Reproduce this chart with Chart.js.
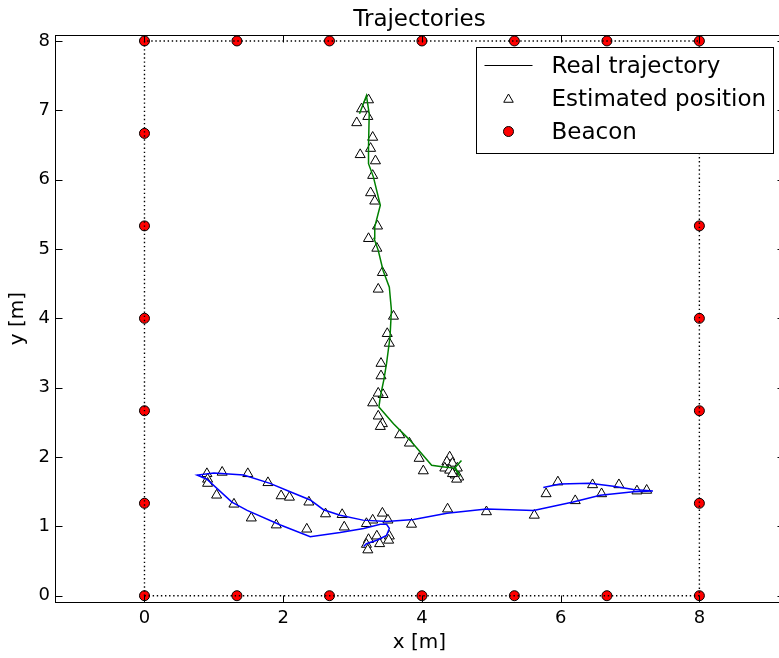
<!DOCTYPE html>
<html>
<head>
<meta charset="utf-8">
<title>Trajectories</title>
<script src="https://cdn.jsdelivr.net/npm/chart.js@4.4.1/dist/chart.umd.min.js"></script>
<style>
  html, body { margin: 0; padding: 0; overflow: hidden; background: #fff; }
  #wrap { width: 800px; height: 658px; }
</style>
</head>
<body>
<div id="wrap"><canvas id="trajChart" width="800" height="658"></canvas></div>
<script>
// axis ranges and ticks
const xMin = -1.29, xMax = 9.22;
const yMin = -0.095, yMax = 8.09;
const xTicks = [0, 2, 4, 6, 8];
const yTicks = [0, 1, 2, 3, 4, 5, 6, 7, 8];

// room outline (dotted) and beacons
const roomX = [0, 8, 8, 0, 0];
const roomY = [0, 0, 8, 8, 0];
const beaconX = [0, 1.333, 2.667, 4, 5.333, 6.667, 8, 0, 1.333, 2.667, 4, 5.333, 6.667, 8, 0, 0, 0, 0, 0, 8, 8, 8, 8, 8];
const beaconY = [0, 0, 0, 0, 0, 0, 0, 8, 8, 8, 8, 8, 8, 8, 1.333, 2.667, 4, 5.333, 6.667, 1.333, 2.667, 4, 5.333, 6.667];

// real trajectory 1 (green)
const greenX = [4.57, 4.48, 4.55, 4.47, 4.29, 4.14, 3.83, 3.59, 3.38, 3.40, 3.45, 3.49, 3.54, 3.56, 3.53, 3.44, 3.37, 3.31, 3.32, 3.40, 3.30, 3.23, 3.23, 3.24, 3.20, 3.10];
const greenY = [1.95, 1.85, 1.72, 1.84, 1.86, 1.88, 2.24, 2.48, 2.72, 2.87, 3.11, 3.35, 3.73, 4.12, 4.45, 4.69, 4.98, 5.15, 5.32, 5.63, 6.04, 6.23, 6.47, 6.95, 7.21, 6.95];

// real trajectory 2 (blue)
const blueX = [5.75, 5.99, 6.42, 6.76, 7.05, 7.33, 7.05, 6.57, 6.18, 5.61, 4.93, 4.36, 3.88, 3.49, 3.15, 2.82, 2.58, 2.39, 2.10, 1.81, 1.43, 1.00, 0.76, 0.90, 1.26, 1.48, 1.96, 2.39, 2.82, 3.16, 3.40, 3.49, 3.53, 3.49, 3.35, 3.20, 3.16];
const blueY = [1.56, 1.61, 1.62, 1.58, 1.53, 1.51, 1.50, 1.45, 1.35, 1.23, 1.25, 1.19, 1.10, 1.07, 1.09, 1.16, 1.24, 1.38, 1.50, 1.62, 1.74, 1.77, 1.74, 1.68, 1.35, 1.23, 1.02, 0.85, 0.91, 0.97, 1.03, 1.03, 0.97, 0.87, 0.80, 0.75, 0.71];

// estimated positions along trajectory 1
const estGreenX = [3.23, 3.13, 3.22, 3.06, 3.29, 3.26, 3.11, 3.33, 3.29, 3.26, 3.32, 3.36, 3.23, 3.35, 3.43, 3.37, 3.59, 3.50, 3.53, 3.41, 3.41, 3.44, 3.37, 3.29, 3.37, 3.43, 3.40, 3.68, 3.82, 3.96, 4.02, 4.40, 4.36, 4.44, 4.33, 4.40, 4.51, 4.48, 4.53, 4.50, 4.44];
const estGreenY = [7.15, 7.02, 6.91, 6.82, 6.61, 6.45, 6.36, 6.27, 6.06, 5.81, 5.69, 5.33, 5.15, 5.01, 4.66, 4.42, 4.03, 3.78, 3.64, 3.35, 3.17, 2.90, 2.92, 2.78, 2.59, 2.48, 2.44, 2.32, 2.20, 1.98, 1.80, 2.00, 1.93, 1.91, 1.84, 1.81, 1.84, 1.74, 1.71, 1.68, 1.76];

// estimated positions along trajectory 2
const estBlueX = [0.90, 0.91, 0.91, 1.12, 1.49, 1.04, 1.29, 1.78, 1.97, 2.09, 1.54, 1.90, 2.37, 2.61, 2.34, 2.85, 2.88, 3.29, 3.43, 3.51, 3.20, 3.23, 3.35, 3.39, 3.53, 3.52, 3.20, 3.22, 3.85, 4.37, 4.93, 5.62, 5.79, 5.96, 6.21, 6.46, 6.59, 6.84, 7.10, 7.24];
const estBlueY = [1.76, 1.68, 1.62, 1.78, 1.76, 1.45, 1.32, 1.63, 1.44, 1.42, 1.12, 1.02, 1.35, 1.18, 0.96, 1.17, 0.99, 1.09, 1.19, 1.09, 1.04, 0.81, 0.86, 0.75, 0.86, 0.80, 0.74, 0.66, 1.03, 1.25, 1.21, 1.16, 1.47, 1.64, 1.37, 1.60, 1.47, 1.60, 1.51, 1.52];

const chartTitle = 'Trajectories';
const legendLabels = ['Real trajectory', 'Estimated position', 'Beacon'];

const FONT = "'DejaVu Sans', 'Liberation Sans', sans-serif";
Chart.defaults.font.family = FONT;
Chart.defaults.color = '#000';

function pts(xs, ys) {
  return xs.map((x, i) => ({ x: x, y: ys[i] }));
}

// title centred over the axes, like matplotlib
const axesTitle = {
  id: 'axesTitle',
  afterDraw(chart) {
    const ctx = chart.ctx, a = chart.chartArea;
    ctx.save();
    ctx.fillStyle = '#000';
    ctx.font = '23px ' + FONT;
    ctx.textAlign = 'center';
    ctx.textBaseline = 'middle';
    ctx.fillText(chartTitle, (a.left + a.right) / 2, a.top - 15);
    ctx.restore();
  }
};

// frame with inward ticks on all four sides
const frameTicks = {
  id: 'frameTicks',
  afterDatasetsDraw(chart) {
    const ctx = chart.ctx, a = chart.chartArea;
    const sx = chart.scales.x, sy = chart.scales.y;
    const L = Math.round(a.left) + 0.5, R = Math.round(a.right) + 0.5;
    const T = Math.round(a.top) + 0.5, B = Math.round(a.bottom) + 0.5;
    ctx.save();
    ctx.strokeStyle = '#000';
    ctx.lineWidth = 1;
    ctx.strokeRect(L, T, R - L, B - T);
    ctx.beginPath();
    xTicks.forEach(v => {
      const px = Math.round(sx.getPixelForValue(v)) + 0.5;
      ctx.moveTo(px, B); ctx.lineTo(px, B - 7);
      ctx.moveTo(px, T); ctx.lineTo(px, T + 7);
    });
    yTicks.forEach(v => {
      const py = Math.round(sy.getPixelForValue(v)) + 0.5;
      ctx.moveTo(L, py); ctx.lineTo(L + 7, py);
      ctx.moveTo(R, py); ctx.lineTo(R - 7, py);
    });
    ctx.stroke();
    ctx.restore();
  }
};

// boxed legend inside the axes, upper right
const boxLegend = {
  id: 'boxLegend',
  afterDraw(chart) {
    const ctx = chart.ctx, a = chart.chartArea;
    const left = Math.round(a.right - 308) + 0.5, top = Math.round(a.top + 12) + 0.5;
    const w = 297, h = 106;
    ctx.save();
    ctx.fillStyle = '#fff';
    ctx.fillRect(left, top, w, h);
    ctx.strokeStyle = '#000';
    ctx.lineWidth = 1;
    ctx.strokeRect(left, top, w, h);
    const rows = [top + 18, top + 51, top + 84];
    const mx = left + 32;
    ctx.beginPath();
    ctx.moveTo(left + 8, rows[0]);
    ctx.lineTo(left + 56, rows[0]);
    ctx.stroke();
    ctx.fillStyle = '#fff';
    ctx.strokeStyle = '#000';
    Chart.helpers.drawPoint(ctx, { pointStyle: 'triangle', radius: 5.5, borderWidth: 1, rotation: 0 }, mx, rows[1] + 1);
    ctx.fillStyle = '#ff0000';
    Chart.helpers.drawPoint(ctx, { pointStyle: 'circle', radius: 5, borderWidth: 1, rotation: 0 }, mx, rows[2]);
    ctx.fillStyle = '#000';
    ctx.font = '23px ' + FONT;
    ctx.textBaseline = 'middle';
    ctx.textAlign = 'left';
    legendLabels.forEach((t, i) => ctx.fillText(t, left + 75, rows[i] + 1.5));
    ctx.restore();
  }
};

const ctx = document.getElementById('trajChart').getContext('2d');
const chart = new Chart(ctx, {
  type: 'scatter',
  data: {
    datasets: [
      {
        label: 'Room',
        data: pts(roomX, roomY),
        showLine: true,
        borderColor: '#000',
        borderWidth: 1.4,
        borderDash: [1.4, 2.7],
        pointRadius: 0,
        fill: false,
        order: 1
      },
      {
        label: 'Real trajectory',
        data: pts(greenX, greenY),
        showLine: true,
        borderColor: '#008000',
        borderWidth: 1.5,
        pointRadius: 0,
        fill: false,
        order: 2
      },
      {
        label: 'Real trajectory 2',
        data: pts(blueX, blueY),
        showLine: true,
        borderColor: '#0000ff',
        borderWidth: 1.5,
        pointRadius: 0,
        fill: false,
        order: 3
      },
      {
        label: 'Estimated position',
        data: pts(estGreenX, estGreenY),
        pointStyle: 'triangle',
        pointRadius: 5.8,
        pointBackgroundColor: '#fff',
        pointBorderColor: '#000',
        pointBorderWidth: 1,
        order: 4
      },
      {
        label: 'Estimated position 2',
        data: pts(estBlueX, estBlueY),
        pointStyle: 'triangle',
        pointRadius: 5.8,
        pointBackgroundColor: '#fff',
        pointBorderColor: '#000',
        pointBorderWidth: 1,
        order: 5
      },
      {
        label: 'Beacon',
        data: pts(beaconX, beaconY),
        pointStyle: 'circle',
        pointRadius: 5,
        pointBackgroundColor: '#ff0000',
        pointBorderColor: '#000',
        pointBorderWidth: 1,
        order: 6
      }
    ]
  },
  options: {
    responsive: false,
    animation: false,
    events: [],
    layout: { padding: { left: 0, right: 16, top: 34.7, bottom: 0 } },
    plugins: {
      legend: { display: false },
      tooltip: { enabled: false },
      title: { display: false }
    },
    scales: {
      x: {
        type: 'linear',
        min: xMin,
        max: xMax,
        afterBuildTicks: s => { s.ticks = xTicks.map(v => ({ value: v })); },
        afterFit: s => { s.height = 55.7; },
        grid: { display: false, drawTicks: false },
        border: { display: false },
        ticks: { font: { size: 18 }, padding: 5, color: '#000', maxRotation: 0 },
        title: { display: true, text: 'x [m]', color: '#000', font: { size: 20 }, padding: { top: 0, bottom: 3 } }
      },
      y: {
        type: 'linear',
        min: yMin,
        max: yMax,
        afterBuildTicks: s => { s.ticks = yTicks.map(v => ({ value: v })); },
        afterFit: s => { s.width = 55; },
        grid: { display: false, drawTicks: false },
        border: { display: false },
        ticks: { font: { size: 18 }, padding: 5, color: '#000' },
        title: { display: true, text: 'y [m]', color: '#000', font: { size: 20 }, padding: { top: 6, bottom: 0 } }
      }
    }
  },
  plugins: [frameTicks, axesTitle, boxLegend]
});
</script>
</body>
</html>
